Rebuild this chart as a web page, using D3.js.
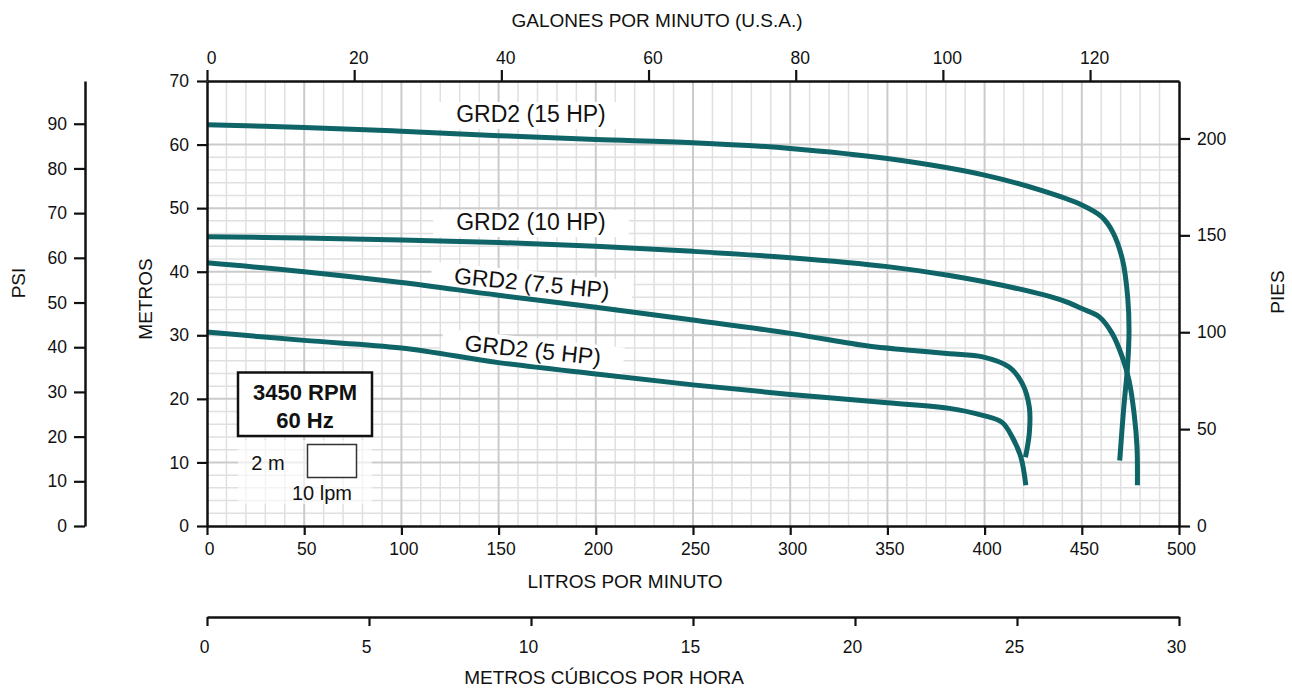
<!DOCTYPE html>
<html><head><meta charset="utf-8">
<script src="https://cdn.jsdelivr.net/npm/d3@7"></script>
<style>
body{margin:0;background:#fff;}
svg text{font-family:"Liberation Sans", Arial, Helvetica, sans-serif; fill:#111;}
</style></head><body>
<svg id="chart" width="1292" height="689"></svg>
<script>
// ---------- DATA (flow in L/min, head in metres) ----------
const seriesNames = ["GRD2 (15 HP)", "GRD2 (10 HP)", "GRD2 (7.5 HP)", "GRD2 (5 HP)"];

const flow15 = [0, 50, 100, 150, 200, 250, 300, 350, 400, 430, 450, 460, 466, 471, 473.6, 474.3, 473.5, 471.6, 469.5];
const head15 = [63.1, 62.7, 62.1, 61.4, 60.8, 60.3, 59.4, 57.8, 55.2, 52.7, 50.5, 48.7, 46.2, 41.8, 36.0, 30.8, 25.0, 18.7, 10.3];

const flow10 = [0, 50, 100, 150, 200, 250, 300, 350, 382, 416, 440, 450, 459, 465.6, 470.8, 474.3, 476.9, 478.4, 478.6];
const head10 = [45.5, 45.3, 45.0, 44.6, 44.0, 43.2, 42.2, 40.8, 39.4, 37.4, 35.5, 34.2, 32.9, 30.3, 26.6, 22.9, 17.7, 12.4, 6.4];

const flow75 = [0, 50, 100, 150, 200, 250, 300, 340, 360, 382, 399, 412.6, 419.4, 423, 423, 421];
const head75 = [41.4, 40.0, 38.3, 36.3, 34.4, 32.4, 30.3, 28.3, 27.7, 27.1, 26.6, 25.0, 22.4, 18.7, 14.6, 10.8];

const flow5 = [0, 50, 100, 150, 200, 250, 300, 350, 382, 399, 409, 414.2, 418.7, 421.2];
const head5 = [30.5, 29.2, 28.0, 25.7, 23.9, 22.2, 20.7, 19.4, 18.5, 17.4, 16.3, 14.0, 10.8, 6.4];

// tick labels
const lpmTicks = [0, 50, 100, 150, 200, 250, 300, 350, 400, 450, 500];
const gpmTicks = [0, 20, 40, 60, 80, 100, 120];
const metroTicks = [0, 10, 20, 30, 40, 50, 60, 70];
const psiTicks = [0, 10, 20, 30, 40, 50, 60, 70, 80, 90];
const piesTicks = [0, 50, 100, 150, 200];
const m3hTicks = [0, 5, 10, 15, 20, 25, 30];

// unit conversions
const LPM_PER_GPM = 3.78541, M_PER_PSI = 0.70307, M_PER_FT = 0.3048;

// ---------- LAYOUT ----------
const X0 = 207, X1 = 1179, Y0 = 526, Y1 = 81;
const curveColor = "#0e6466";
const TICK_FS = 17.5;
const svg = d3.select("#chart");

const x = d3.scaleLinear().domain([0, 500]).range([X0, X1]);
const y = d3.scaleLinear().domain([0, 70]).range([Y0, Y1]);
const xG = d3.scaleLinear().domain([0, 500 / LPM_PER_GPM]).range([X0, X1]);
const xM3 = d3.scaleLinear().domain([0, 30]).range([X0, X1]);
const yPsi = d3.scaleLinear().domain([0, 70 / M_PER_PSI]).range([Y0, Y1]);
const yFt = d3.scaleLinear().domain([0, 70 / M_PER_FT]).range([Y0, Y1]);

// ---------- GRID ----------
const grid = svg.append("g");
const vMinor = d3.range(10, 500, 10).filter(v => v % 50 !== 0);
const vMajor = d3.range(50, 500, 50);
const hMinor = d3.range(2, 60, 2).filter(v => v % 10 !== 0);
const hMajor = d3.range(10, 70, 10);
grid.selectAll(".vmin").data(vMinor).join("line")
  .attr("x1", d => x(d)).attr("x2", d => x(d)).attr("y1", Y0).attr("y2", Y1)
  .attr("stroke", "#e0e0e0").attr("stroke-width", 1.5);
grid.selectAll(".hmin").data(hMinor).join("line")
  .attr("y1", d => y(d)).attr("y2", d => y(d)).attr("x1", X0).attr("x2", X1)
  .attr("stroke", "#e0e0e0").attr("stroke-width", 1.5);
grid.selectAll(".vmaj").data(vMajor).join("line")
  .attr("x1", d => x(d)).attr("x2", d => x(d)).attr("y1", Y0).attr("y2", Y1)
  .attr("stroke", "#cbcbcb").attr("stroke-width", 2);
grid.selectAll(".hmaj").data(hMajor).join("line")
  .attr("y1", d => y(d)).attr("y2", d => y(d)).attr("x1", X0).attr("x2", X1)
  .attr("stroke", "#cbcbcb").attr("stroke-width", 2);

// ---------- CURVE LABEL BOXES ----------
const labelLayout = [
  {cx: 531, cy: 122, rot: 0},
  {cx: 531, cy: 230, rot: 0},
  {cx: 531, cy: 291, rot: 5.5},
  {cx: 532, cy: 358, rot: 6}
];
const labelGroups = seriesNames.map((name, i) => {
  const L = labelLayout[i];
  return svg.append("g").attr("transform", `translate(${L.cx},${L.cy}) rotate(${L.rot})`);
});
labelGroups.forEach((g, i) => {
  const t = g.append("text").attr("text-anchor", "middle").attr("font-size", 23).text(seriesNames[i]);
  const w = t.node().getComputedTextLength();
  t.remove();
  g.append("rect").attr("x", -w / 2 - 23).attr("y", -20).attr("width", w + 46).attr("height", 27).attr("fill", "#fff");
});

// ---------- LEGEND ----------
const leg = svg.append("g");
leg.append("rect").attr("x", 238).attr("y", 440).attr("width", 134).attr("height", 64)
  .attr("fill", "#fff").attr("opacity", 0.65);
leg.append("rect").attr("x", 238).attr("y", 372.5).attr("width", 134).attr("height", 63.5)
  .attr("fill", "#fff").attr("stroke", "#111").attr("stroke-width", 2.5);
leg.append("text").attr("x", 305).attr("y", 400).attr("text-anchor", "middle")
  .attr("font-size", 22).attr("font-weight", "bold").text("3450 RPM");
leg.append("text").attr("x", 305).attr("y", 428).attr("text-anchor", "middle")
  .attr("font-size", 22).attr("font-weight", "bold").text("60 Hz");
leg.append("rect").attr("x", 307.5).attr("y", 444.5).attr("width", 49).attr("height", 33)
  .attr("fill", "#fff").attr("stroke", "#333").attr("stroke-width", 1.5);
leg.append("text").attr("x", 268).attr("y", 470).attr("text-anchor", "middle").attr("font-size", 20).text("2 m");
leg.append("text").attr("x", 322).attr("y", 500).attr("text-anchor", "middle").attr("font-size", 20).text("10 lpm");

// ---------- CURVES ----------
const series = [[flow15, head15], [flow10, head10], [flow75, head75], [flow5, head5]];
const line = d3.line().x(d => x(d[0])).y(d => y(d[1])).curve(d3.curveCatmullRom.alpha(0.5));
svg.append("g").selectAll("path").data(series).join("path")
  .attr("d", s => line(d3.zip(s[0], s[1])))
  .attr("fill", "none").attr("stroke", curveColor).attr("stroke-width", 5).attr("stroke-linecap", "butt");

// label texts on top
labelGroups.forEach((g, i) => {
  g.append("text").attr("text-anchor", "middle").attr("font-size", 23).text(seriesNames[i]);
});

// ---------- AXES ----------
function styleAxis(g, dx) {
  g.select(".domain").attr("stroke", "#111").attr("stroke-width", 2.5);
  g.selectAll(".tick line").attr("stroke", "#111").attr("stroke-width", 2.2);
  g.selectAll(".tick text").attr("font-size", TICK_FS).attr("fill", "#111")
    .attr("dx", dx || 0)
    .style("font-family", "'Liberation Sans', Arial, sans-serif");
  g.attr("font-size", null).attr("font-family", null);
}
const fmt = d3.format("d");
svg.append("g").attr("transform", `translate(${X0},0)`)
  .call(d3.axisLeft(y).tickValues(metroTicks).tickFormat(fmt).tickSize(10).tickSizeOuter(0).tickPadding(8))
  .call(g => styleAxis(g, 0));
svg.append("g").attr("transform", `translate(85,0)`)
  .call(d3.axisLeft(yPsi).tickValues(psiTicks).tickFormat(fmt).tickSize(11).tickSizeOuter(0).tickPadding(7))
  .call(g => styleAxis(g, 0));
svg.append("g").attr("transform", `translate(${X1},0)`)
  .call(d3.axisRight(yFt).tickValues(piesTicks).tickFormat(fmt).tickSize(11).tickSizeOuter(0).tickPadding(7))
  .call(g => styleAxis(g, 0));
svg.append("g").attr("transform", `translate(0,${Y1})`)
  .call(d3.axisTop(xG).tickValues(gpmTicks).tickFormat(fmt).tickSize(11).tickSizeOuter(0).tickPadding(6))
  .call(g => styleAxis(g, 4));
svg.append("g").attr("transform", `translate(0,${Y0})`)
  .call(d3.axisBottom(x).tickValues(lpmTicks).tickFormat(fmt).tickSize(9).tickSizeOuter(0).tickPadding(8))
  .call(g => styleAxis(g, 2));
svg.append("g").attr("transform", `translate(0,617)`)
  .call(d3.axisBottom(xM3).tickValues(m3hTicks).tickFormat(fmt).tickSize(9).tickSizeOuter(0).tickPadding(15))
  .call(g => styleAxis(g, -3));

// ---------- AXIS TITLES ----------
svg.append("text").attr("x", 657).attr("y", 27).attr("text-anchor", "middle").attr("font-size", 19).text("GALONES POR MINUTO (U.S.A.)");
svg.append("text").attr("x", 625).attr("y", 588).attr("text-anchor", "middle").attr("font-size", 19).text("LITROS POR MINUTO");
svg.append("text").attr("x", 604).attr("y", 684).attr("text-anchor", "middle").attr("font-size", 19).text("METROS CÚBICOS POR HORA");
svg.append("text").attr("transform", "translate(25,283) rotate(-90)").attr("text-anchor", "middle").attr("font-size", 19).text("PSI");
svg.append("text").attr("transform", "translate(152,299) rotate(-90)").attr("text-anchor", "middle").attr("font-size", 19).text("METROS");
svg.append("text").attr("transform", "translate(1284,292) rotate(-90)").attr("text-anchor", "middle").attr("font-size", 19).text("PIES");
</script>
</body></html>
